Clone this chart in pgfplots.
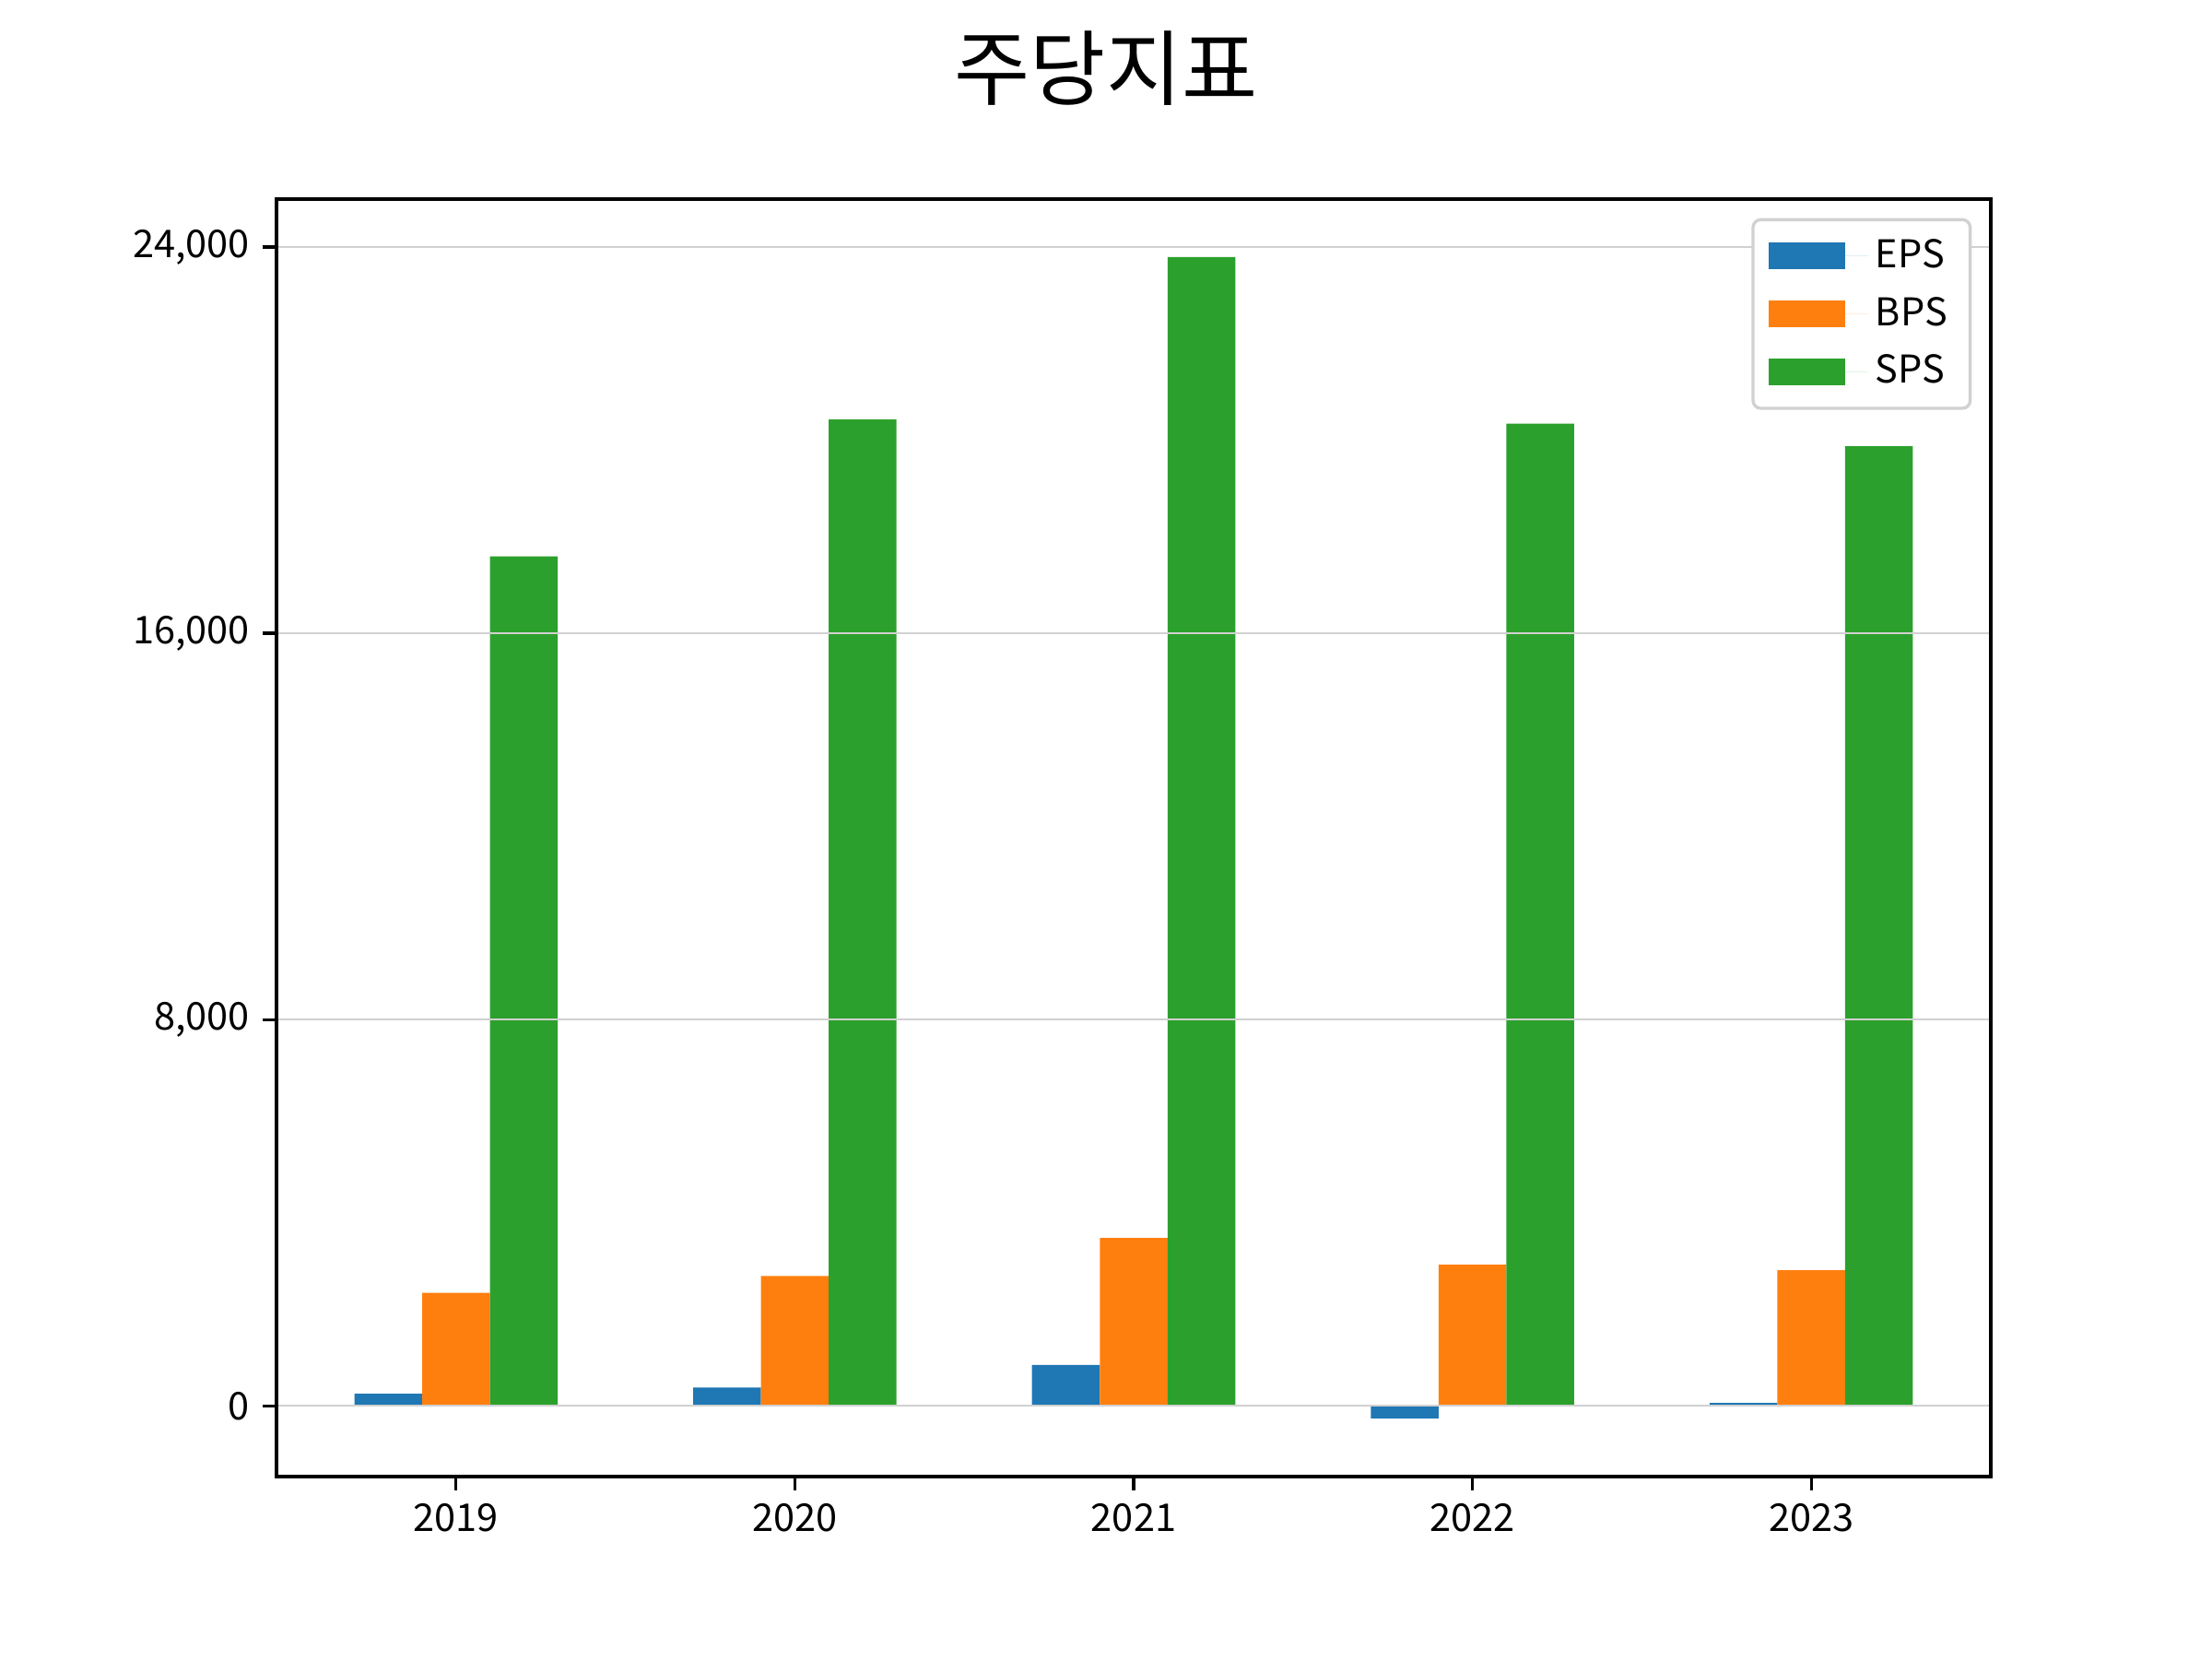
\documentclass[border=0pt]{standalone}
\usepackage{pgfplots}
\pgfplotsset{compat=1.18}
\usepackage{fontspec}
\setmainfont{Noto Sans CJK KR}
\definecolor{c0}{HTML}{1F77B4}
\definecolor{c1}{HTML}{FF7F0E}
\definecolor{c2}{HTML}{2CA02C}
\begin{document}
\begin{tikzpicture}
\path[use as bounding box] (0,0) rectangle (8in,6in);
\node[anchor=north, font=\fontsize{21.5}{25}\selectfont, inner sep=0pt] at (4in,5.89in) {주당지표};
\begin{axis}[
  at={(1in,0.66in)}, anchor=south west,
  width=6.2in, height=4.62in, scale only axis,
  xmin=-0.53, xmax=4.53,
  ymin=-1466, ymax=24995,
  xtick={0,1,2,3,4},
  xticklabels={2019,2020,2021,2022,2023},
  ytick={0,8000,16000,24000},
  /pgf/number format/assume math mode=true,
  /pgf/number format/1000 sep={,},
  scaled y ticks=false,
  tick label style={font=\fontsize{10}{12}\selectfont},
  tick align=outside,
  major tick length=3.5pt,
  xtick pos=bottom, ytick pos=left,
  ymajorgrids,
  grid style={draw=black!18, line width=0.5pt},
  axis on top,
  axis line style={line width=0.8pt},
  every tick/.style={black, line width=0.8pt},
  legend style={at={(1,1)}, anchor=north east, xshift=-5pt, yshift=-5pt,
    draw=black!18, line width=0.8pt, rounded corners=2pt,
    font=\fontsize{10}{12}\selectfont, row sep=2.2pt,
    inner xsep=4pt, inner ysep=3pt},
  legend cell align=left,
  legend image code/.code={\fill[#1, sharp corners] (0pt,-3.5pt) rectangle (20pt,3.5pt); \path (0pt,0pt) -- (26pt,0pt);},
]
\addplot[ybar, bar width=0.2, bar shift=-0.2, fill=c0, draw=none] coordinates {(0,250) (1,380) (2,848) (3,-263) (4,58)};
\addplot[ybar, bar width=0.2, bar shift=0, fill=c1, draw=none] coordinates {(0,2338) (1,2689) (2,3478) (3,2923) (4,2806)};
\addplot[ybar, bar width=0.2, bar shift=0.2, fill=c2, draw=none] coordinates {(0,17596) (1,20431) (2,23792) (3,20343) (4,19876)};
\legend{EPS,BPS,SPS}
\end{axis}
\end{tikzpicture}
\end{document}
